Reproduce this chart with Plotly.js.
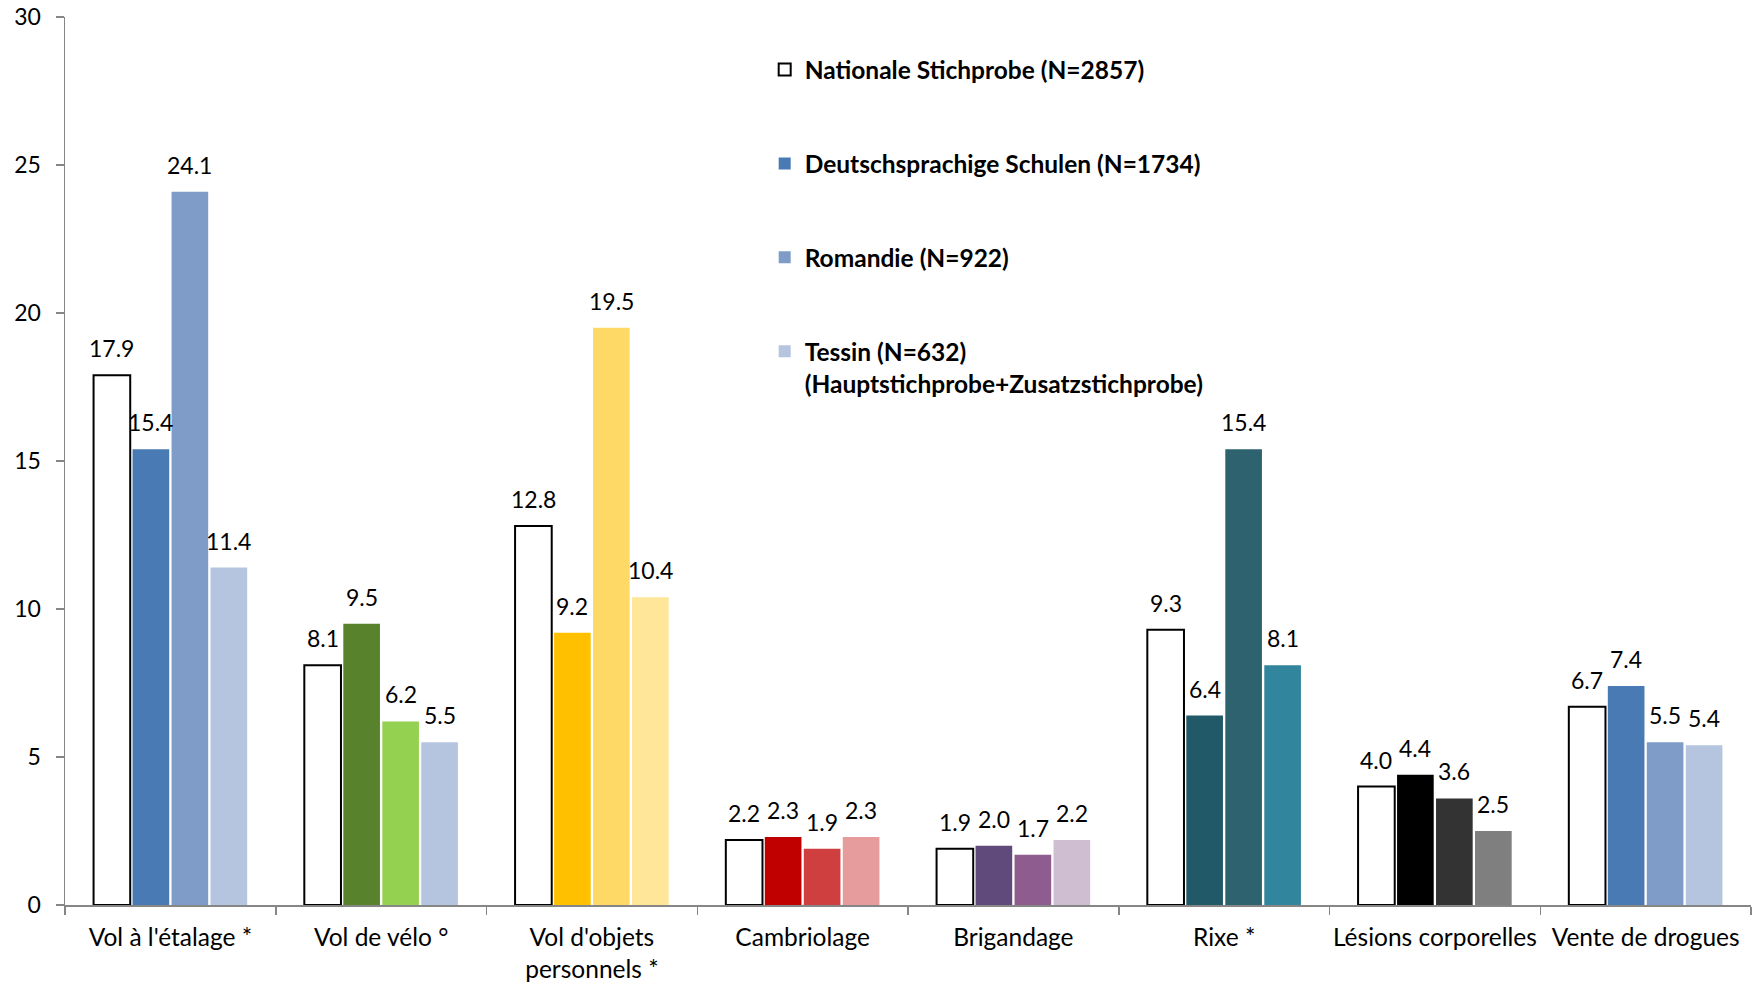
<!DOCTYPE html>
<html>
<head>
<meta charset="utf-8">
<script src="https://cdn.plot.ly/plotly-3.0.1.min.js"></script>
<style>html,body{margin:0;padding:0;background:#fff;}#chart{width:1758px;height:986px;}</style>
</head>
<body>
<div id="chart"></div>
<script>
const categories = ["Vol à l'étalage *", "Vol de vélo °", "Vol d'objets<br>personnels *", "Cambriolage", "Brigandage", "Rixe *", "Lésions corporelles", "Vente de drogues"];
const seriesNames = ["Nationale Stichprobe (N=2857)", "Deutschsprachige Schulen (N=1734)", "Romandie (N=922)", "Tessin (N=632)<br>(Hauptstichprobe+Zusatzstichprobe)"];
const national = [17.9, 8.1, 12.8, 2.2, 1.9, 9.3, 4.0, 6.7];
const deutsch = [15.4, 9.5, 9.2, 2.3, 2.0, 6.4, 4.4, 7.4];
const romandie = [24.1, 6.2, 19.5, 1.9, 1.7, 15.4, 3.6, 5.5];
const tessin = [11.4, 5.5, 10.4, 2.3, 2.2, 8.1, 2.5, 5.4];
const yTicks = [0, 5, 10, 15, 20, 25, 30];

const colNational = ["#ffffff","#ffffff","#ffffff","#ffffff","#ffffff","#ffffff","#ffffff","#ffffff"];
const colDeutsch = ["#4a7ab4","#58832c","#ffc000","#c00000","#604a7b","#215968","#000000","#4a7ab4"];
const colRomandie = ["#7f9cc9","#94d150","#ffd966","#cf3f3f","#8e5c8e","#2d626e","#333333","#7f9cc9"];
const colTessin = ["#b5c4df","#b5c4df","#ffe699","#e69c9c","#cfbdd2","#31859c","#7f7f7f","#b5c4df"];

const values = [national, deutsch, romandie, tessin];
const colors = [colNational, colDeutsch, colRomandie, colTessin];

const font = "Lato, 'Open Sans', sans-serif";
const bargap = 0.26;
const nSeries = values.length;

const traces = values.map((v, i) => ({
  type: 'bar',
  name: seriesNames[i],
  legendgroup: 'g' + i,
  x: categories,
  y: v,
  marker: {
    color: colors[i],
    line: {color: i === 0 ? '#000000' : 'rgba(0,0,0,0)', width: i === 0 ? 2 : 0}
  },
  hoverinfo: 'x+y'
}));

// data labels positioned through the category axis (index + group slot)
const annotations = [];
const slot = (1 - bargap) / nSeries;
values.forEach((v, i) => {
  v.forEach((val, j) => {
    annotations.push({
      x: j - (1 - bargap) / 2 + slot * (i + 0.5),
      y: val,
      xref: 'x', yref: 'y',
      text: val.toFixed(1),
      showarrow: false,
      yanchor: 'middle',
      xanchor: 'center',
      yshift: 27,
      font: {family: font, size: 23, color: '#000'}
    });
  });
});

const layout = {
  width: 1758,
  height: 986,
  margin: {l: 65, r: 7, t: 17, b: 81},
  paper_bgcolor: '#fff',
  plot_bgcolor: '#fff',
  barmode: 'group',
  bargap: bargap,
  bargroupgap: 0.06,
  font: {family: font, size: 23, color: '#000'},
  annotations: annotations,
  xaxis: {
    type: 'category',
    showline: true,
    linecolor: '#868686',
    linewidth: 1.5,
    ticks: 'outside',
    tickson: 'boundaries',
    ticklen: 8,
    tickcolor: '#868686',
    tickwidth: 1.5,
    tickangle: 0,
    tickfont: {family: font, size: 24.5, color: '#000'},
    ticklabelstandoff: 10,
    showgrid: false,
    zeroline: false
  },
  yaxis: {
    range: [0, 30],
    tickvals: yTicks,
    ticktext: yTicks.map(String),
    showline: true,
    linecolor: '#868686',
    linewidth: 1.5,
    ticks: 'outside',
    ticklen: 8,
    tickcolor: '#868686',
    tickwidth: 1.5,
    tickfont: {family: font, size: 23, color: '#000'},
    showgrid: false,
    zeroline: false,
    ticklabelstandoff: 10
  },
  legend: {
    x: 0.415,
    xanchor: 'left',
    y: 0.966,
    yanchor: 'top',
    tracegroupgap: 59,
    valign: 'top',
    bgcolor: 'rgba(0,0,0,0)',
    font: {family: font, size: 24.5, color: '#000', weight: 'bold'},
    itemclick: false
  },
  showlegend: true
};

Plotly.newPlot('chart', traces, layout, {displayModeBar: false, staticPlot: true});
</script>
</body>
</html>
